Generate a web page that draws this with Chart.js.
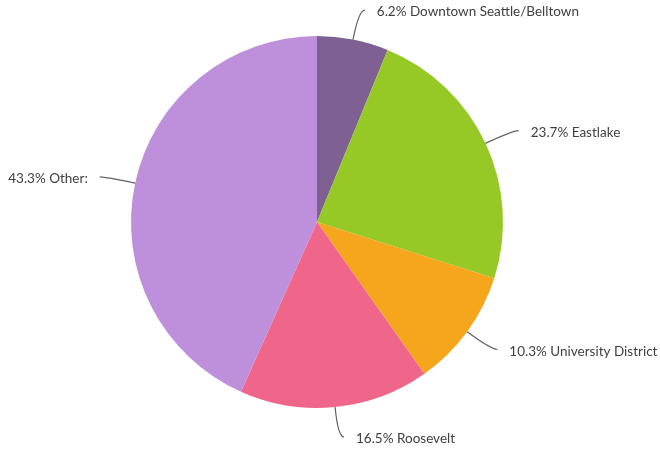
<!DOCTYPE html>
<html>
<head>
<meta charset="utf-8">
<script src="https://cdn.jsdelivr.net/npm/chart.js@4.4.1/dist/chart.umd.min.js"></script>
<style>
  html, body { margin: 0; padding: 0; background: #fff; }
  #wrap { width: 660px; height: 449px; position: relative; }
</style>
</head>
<body>
<div id="wrap"><canvas id="pieChart"></canvas></div>
<script>
// data
var neighborhoods = ["Downtown Seattle/Belltown", "Eastlake", "University District", "Roosevelt", "Other:"];
var shares = [6.2, 23.7, 10.3, 16.5, 43.3];
var sliceColors = ["#7e6093", "#97c926", "#f5a61c", "#f0668a", "#be90db"];

// outside labels with curved leader lines
var outsideLabels = {
    id: 'outsideLabels',
    afterDatasetsDraw: function(chart) {
        var ctx = chart.ctx;
        var meta = chart.getDatasetMeta(0);
        ctx.save();
        ctx.font = '13.5px Lato';
        ctx.textBaseline = 'middle';
        meta.data.forEach(function(arc, i) {
            var mid = (arc.startAngle + arc.endAngle) / 2;
            var r = arc.outerRadius;
            var cos = Math.cos(mid), sin = Math.sin(mid);
            var side = cos >= 0 ? 1 : -1;
            var ex = arc.x + r * cos, ey = arc.y + r * sin;
            var ax = arc.x + (r + 30) * cos, ay = arc.y + (r + 30) * sin;

            ctx.beginPath();
            ctx.strokeStyle = '#606060';
            ctx.lineWidth = 1.2;
            ctx.moveTo(ex, ey);
            ctx.quadraticCurveTo(ax, ay, ax + side * 6, ay);
            ctx.stroke();

            ctx.fillStyle = '#404040';
            ctx.textAlign = side > 0 ? 'left' : 'right';
            ctx.fillText(shares[i].toFixed(1) + '% ' + neighborhoods[i], ax + side * 18, ay + 2);
        });
        ctx.restore();
    }
};

var ctxP = document.getElementById("pieChart").getContext('2d');
var myPieChart = new Chart(ctxP, {
    type: 'pie',
    data: {
        labels: neighborhoods,
        datasets: [{
            data: shares,
            backgroundColor: sliceColors,
            borderWidth: 0
        }]
    },
    options: {
        responsive: true,
        maintainAspectRatio: false,
        animation: false,
        layout: {
            padding: { left: 131, right: 157, top: 36, bottom: 41 }
        },
        plugins: {
            legend: { display: false },
            tooltip: { enabled: false }
        }
    },
    plugins: [outsideLabels]
});
</script>
</body>
</html>
